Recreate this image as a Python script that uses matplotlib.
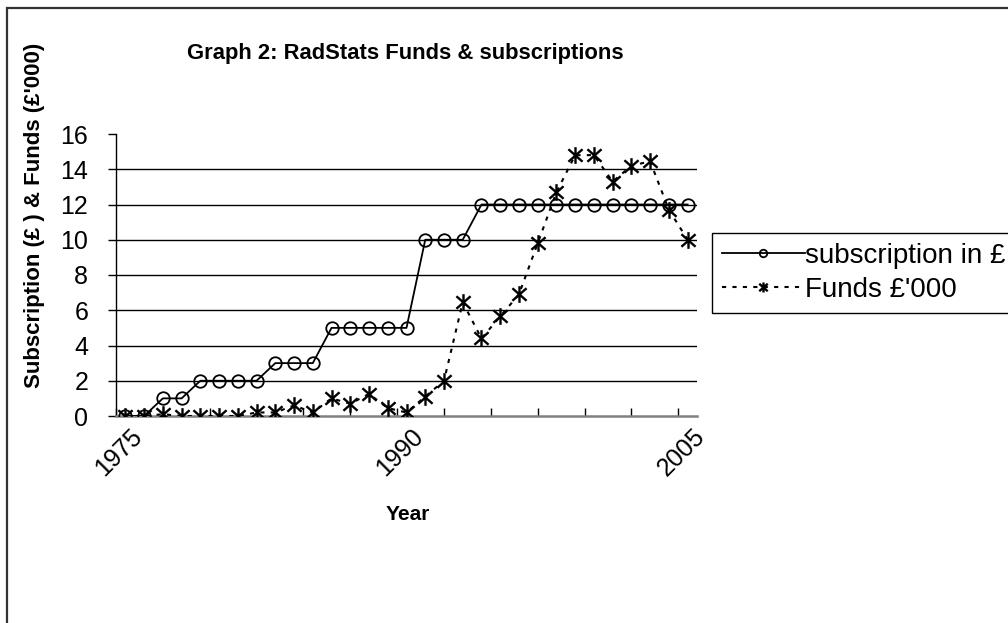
import matplotlib
matplotlib.use("Agg")
import matplotlib.pyplot as plt
import matplotlib.transforms as mtransforms
from matplotlib.path import Path
from matplotlib.patches import Rectangle

plt.rcParams['font.family'] = ['Liberation Sans', 'DejaVu Sans']

years = list(range(1975, 2006))
subscription = [0, 0, 1, 1, 2, 2, 2, 2, 3, 3, 3, 5, 5, 5, 5, 5,
                10, 10, 10, 12, 12, 12, 12, 12, 12, 12, 12, 12, 12, 12, 12]
funds = [0, 0, 0.1, 0, 0, 0, 0, 0.2, 0.2, 0.6, 0.2, 1.0, 0.7, 1.25, 0.45, 0.2,
         1.1, 2.0, 6.45, 4.4, 5.65, 6.9, 9.8, 12.7, 14.8, 14.8, 13.3, 14.2, 14.45, 11.7, 10.0]
year_labels = [1975, 1990, 2005]
y_ticks = [0, 2, 4, 6, 8, 10, 12, 14, 16]

# excel style star: vertical bar plus an X
star = Path([(0, -1), (0, 1), (-0.85, -0.75), (0.85, 0.75), (-0.85, 0.75), (0.85, -0.75)],
            [Path.MOVETO, Path.LINETO] * 3)

fig = plt.figure(figsize=(10.08, 6.23), dpi=100)
ax = fig.add_axes([116 / 1008, 1 - 416 / 623, 581 / 1008, 282 / 623])

ax.plot(years, subscription, color="black", lw=1.3, marker="o", ms=9,
        mfc="none", mec="black", mew=1.3, label="subscription in £", zorder=3)
ax.plot(years, funds, color="black", lw=1.5, linestyle=(0, (2, 3)), marker=star, ms=12,
        mec="black", mew=1.7, label="Funds £'000", zorder=4)

ax.set_xlim(1974.5, 2005.5)
ax.set_ylim(0, 16)
ax.set_yticks(y_ticks)
ax.set_yticklabels([str(v) for v in y_ticks], fontsize=18)
ax.tick_params(axis='y', direction='out', length=6, width=1, color='black', pad=14)

ax.set_xticks(year_labels)
ax.set_xticklabels([str(v) for v in year_labels], fontsize=18, rotation=45,
                   ha='right', rotation_mode='anchor')
ax.tick_params(axis='x', which='major', length=0, pad=6)
shift = mtransforms.ScaledTranslation(5 / 100, 0, fig.dpi_scale_trans)
for lbl in ax.get_xticklabels():
    lbl.set_transform(lbl.get_transform() + shift)
ax.set_xticks([1974.5 + 2.5 * k for k in range(13)], minor=True)
ax.tick_params(axis='x', which='minor', direction='in', length=6, width=1, color='black')

ax.grid(axis='y', color='black', lw=1)
ax.set_axisbelow(True)
for t, v in zip(ax.yaxis.get_major_ticks(), y_ticks):
    if v in (0, 16):
        t.gridline.set_visible(False)

for s in ('top', 'right'):
    ax.spines[s].set_visible(False)
ax.spines['left'].set_color('black')
ax.spines['left'].set_linewidth(1)
ax.spines['bottom'].set_color('#808080')
ax.spines['bottom'].set_linewidth(1.8)

fig.text(405 / 1008, 1 - 54 / 623, "Graph 2: RadStats Funds & subscriptions",
         ha='center', va='center', fontsize=15.8, fontweight='bold')
fig.text(35 / 1008, 1 - 215 / 623, "Subscription (£ ) & Funds (£'000)",
         ha='center', va='center', rotation=90, fontsize=16, fontweight='bold')
fig.text(408 / 1008, 1 - 515 / 623, "Year", ha='center', va='center',
         fontsize=15, fontweight='bold')

leg = fig.legend(loc='upper left', bbox_to_anchor=(712 / 1008, 1 - 233 / 623),
                 borderaxespad=0, fontsize=20, handlelength=3.0, markerscale=0.6,
                 fancybox=False, framealpha=1, edgecolor='black', borderpad=0.35,
                 labelspacing=0.3, handletextpad=0.0)
leg.get_frame().set_linewidth(1)

# chart area border, runs off the right and bottom of the picture
fig.patches.append(Rectangle((7 / 1008, -0.2), 1.2, 1.2 - 8 / 623, transform=fig.transFigure,
                             fill=False, edgecolor='#333333', lw=1.6))

fig.savefig("out.png", dpi=100)
